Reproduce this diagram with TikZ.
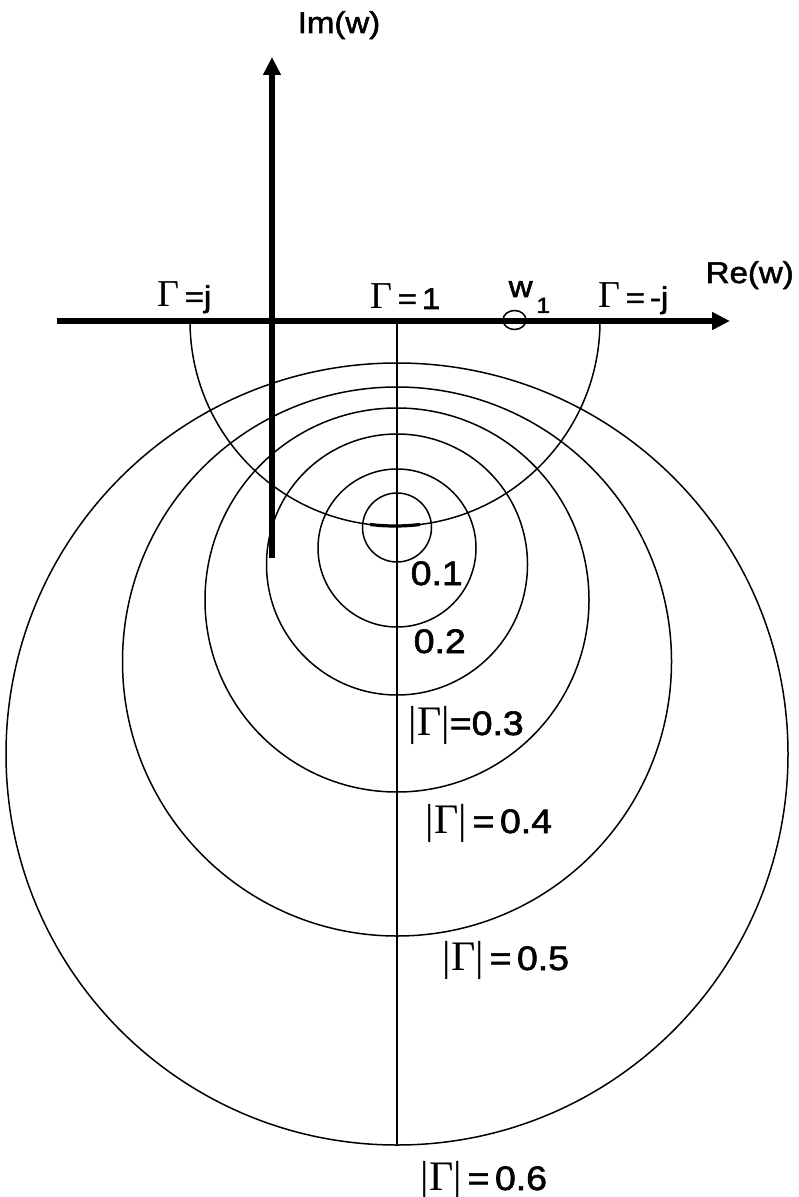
\documentclass[tikz,border=0pt]{standalone}
\usepackage{fontspec}
\setmainfont{Liberation Sans}[FakeStretch=1.1,FakeBold=1.8]
\newfontfamily\grk{Liberation Serif}
\usetikzlibrary{arrows.meta}
\tikzset{axis/.style={line width=2.8pt,-{Triangle[length=9pt,width=8.5pt]}},
  lbl/.style={anchor=base west,inner sep=0pt},
  big/.style={lbl,font=\fontsize{17}{19}\selectfont}}
\newcommand\Gm{{\grk\fontsize{19}{20}\selectfont Γ}}
\newcommand\absG{{\grk\fontsize{21}{22}\selectfont |Γ|}}
\begin{document}
\begin{tikzpicture}[x=0.5pt,y=-0.5pt,line width=0.75pt,font=\fontsize{15}{17}\selectfont]
  \useasboundingbox (0,0) rectangle (798,1197);
  \foreach \cy/\r in {527.5/34.5,548/79,564.5/130.5,600/192,661.5/274.5,754/391}
    {\draw (397,\cy) circle[radius=\r];}
  \draw (600,321) arc[start angle=0,end angle=180,radius=205];
  \draw[line width=1.6pt] (395,321) ++(83:205) arc[start angle=83,end angle=97,radius=205];
  \coordinate (one) at (397,321);
  \coordinate (low) at (397,1145);
  \draw (one) -- (low);
  \coordinate (west) at (57,321);
  \coordinate (east) at (730,321);
  \coordinate (south) at (272,558);
  \coordinate (north) at (272,57);
  \draw[axis] (west) -- (east);
  \draw[axis] (south) -- (north);
  \draw (514.5,320) ellipse[x radius=11.5,y radius=9.5];
  \node[lbl] (im) at (297,33) {Im(w)};
  \node[lbl] (re) at (705,283) {Re(w)};
  \node[lbl] (gj) at (157,307) {\Gm\,=j};
  \node[lbl] (g1) at (370,309) {\Gm\,=\,1};
  \node[lbl] (w1) at (508,297) {w\hspace{2pt}\raisebox{-8pt}{\fontsize{11}{12}\selectfont 1}};
  \node[lbl] (gmj) at (598,308) {\Gm\,=\,-j};
  \node[big] (r1) at (410,585) {0.1};
  \node[big] (r2) at (413,653) {0.2};
  \node[big] (r3) at (408,735) {\absG=0.3};
  \node[big] (r4) at (425,833) {\absG\,=\,0.4};
  \node[big] (r5) at (442,970) {\absG\,=\,0.5};
  \node[big] (r6) at (420,1190) {\absG\,=\,0.6};
\end{tikzpicture}
\end{document}
